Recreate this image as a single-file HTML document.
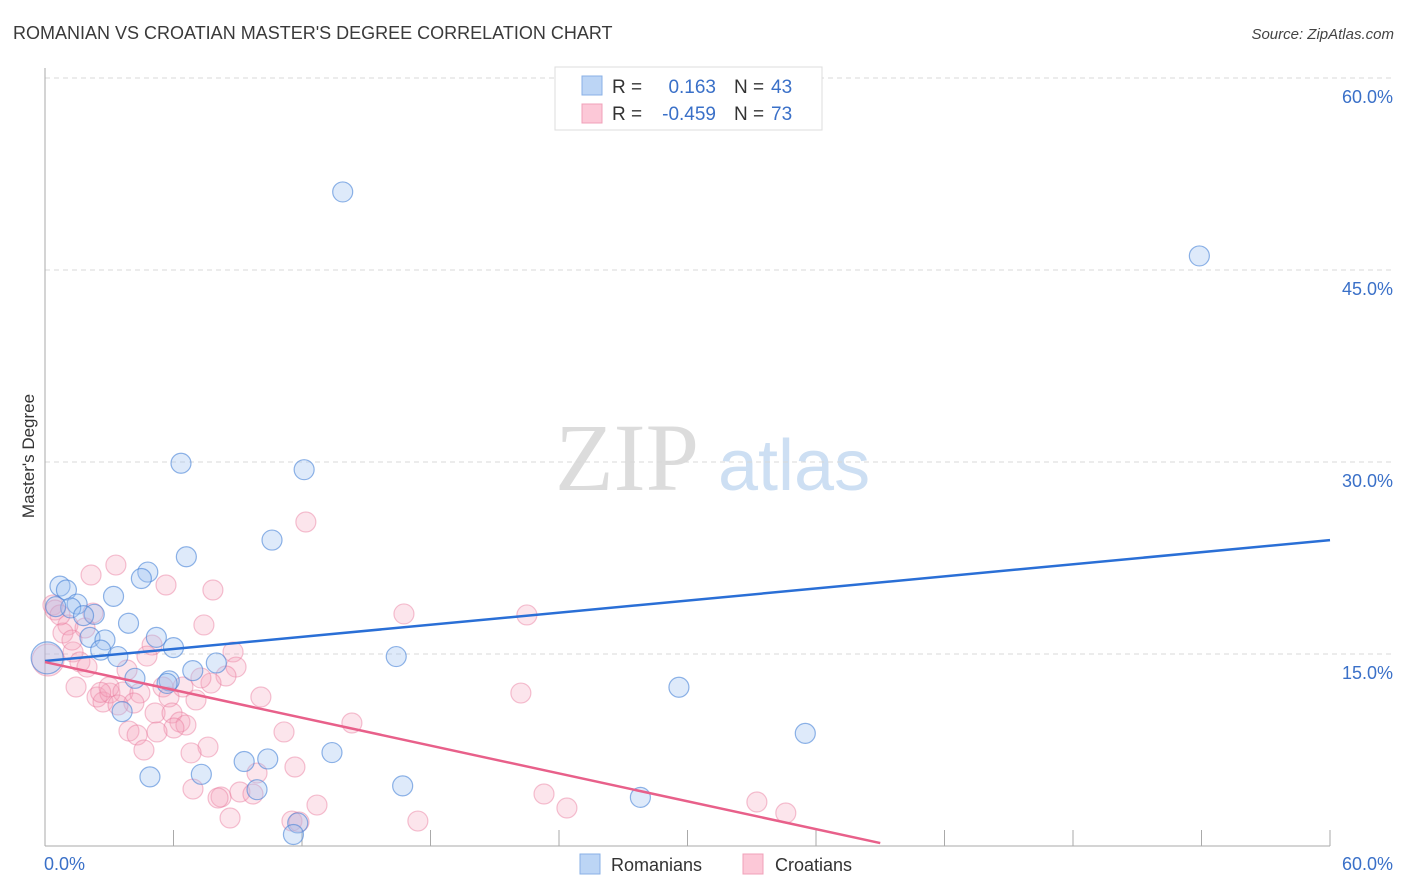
<!DOCTYPE html>
<html><head><meta charset="utf-8"><style>
body{margin:0;background:#fff;font-family:"Liberation Sans",sans-serif}
svg{display:block}
</style></head><body>
<svg id="chart" width="1406" height="892" xmlns="http://www.w3.org/2000/svg">
<text x="13" y="39" font-size="18" fill="#3a3a3a">ROMANIAN VS CROATIAN MASTER'S DEGREE CORRELATION CHART</text>
<text x="1394" y="39" font-size="15" fill="#444" font-style="italic" text-anchor="end">Source: ZipAtlas.com</text>
<g>
<text x="555" y="490" font-family="Liberation Serif,serif" font-size="96" fill="#dcdcdc">ZIP</text>
<text x="718" y="490" font-size="72" fill="#cddff3">atlas</text>
</g>
<g id="grid"></g>
<g id="axes"></g>
<g id="pts"></g>
<g id="trends"></g>
<text transform="translate(34,456) rotate(-90)" font-size="17" fill="#333" text-anchor="middle">Master's Degree</text>
<g>
<rect x="555" y="67" width="267" height="63" fill="#fff" stroke="#ddd"/>
<rect x="582" y="76" width="20" height="19" fill="#bcd5f5" stroke="#8ab0e6"/>
<rect x="582" y="104" width="20" height="19" fill="#fcc8d7" stroke="#f0a0b8"/>
<text x="612" y="93" font-size="19" fill="#333">R =</text>
<text x="716" y="93" font-size="19" fill="#3a70c8" text-anchor="end">0.163</text>
<text x="734" y="93" font-size="19" fill="#333">N =</text>
<text x="771" y="93" font-size="19" fill="#3a70c8">43</text>
<text x="612" y="120" font-size="19" fill="#333">R =</text>
<text x="716" y="120" font-size="19" fill="#3a70c8" text-anchor="end">-0.459</text>
<text x="734" y="120" font-size="19" fill="#333">N =</text>
<text x="771" y="120" font-size="19" fill="#3a70c8">73</text>
</g>
<g>
<rect x="580" y="854" width="20" height="20" fill="#bcd5f5" stroke="#8ab0e6"/>
<text x="611" y="871" font-size="18" fill="#333">Romanians</text>
<rect x="743" y="854" width="20" height="20" fill="#fcc8d7" stroke="#f0a0b8"/>
<text x="775" y="871" font-size="18" fill="#333">Croatians</text>
</g>
</svg>
<script>
const yTicks=[15,30,45,60];
const yTickLabels=["15.0%","30.0%","45.0%","60.0%"];
const xTickLabels=["0.0%","60.0%"];
const romX=[13.9,53.9,6.35,12.1,10.6,6.6,4.8,4.5,0.7,1.0,3.2,1.5,1.2,0.5,2.3,1.8,3.9,5.2,2.1,2.8,6.0,2.6,3.4,0.1,16.4,8.0,6.9,4.2,5.8,5.7,29.6,3.6,35.5,13.4,10.4,9.3,4.9,7.3,16.7,9.9,27.8,11.8,11.6];
const romY=[51.1,46.1,29.9,29.4,23.9,22.6,21.4,20.9,20.3,20.0,19.5,18.9,18.6,18.7,18.1,18.0,17.4,16.3,16.3,16.1,15.5,15.3,14.8,14.7,14.8,14.3,13.7,13.1,12.9,12.7,12.4,10.5,8.8,7.3,6.8,6.6,5.4,5.6,4.7,4.4,3.8,1.8,0.9];
const croX=[3.31,2.15,5.65,7.84,0.37,0.47,2.24,1.07,0.84,7.42,1.31,1.63,1.96,5.0,4.76,8.78,8.92,8.45,7.75,7.28,3.83,1.45,2.43,2.71,3.03,2.99,3.64,4.43,4.15,3.41,5.51,5.79,6.44,7.05,5.14,5.93,6.3,6.58,6.02,5.23,3.92,4.3,4.62,7.61,6.82,10.08,11.16,14.33,11.67,9.9,6.91,8.22,8.08,9.1,9.71,8.64,11.53,11.86,12.7,17.41,16.76,12.18,22.5,22.22,23.3,24.37,33.24,34.59,0.14,0.7,1.87,1.26,2.6];
const croY=[21.95,21.17,20.39,20.0,18.83,18.44,18.2,17.27,16.64,17.27,15.16,14.38,13.98,15.7,14.84,15.16,13.98,13.28,12.73,13.13,13.75,12.42,11.64,11.25,11.95,12.42,12.03,11.95,11.17,11.02,12.42,11.64,12.42,11.41,10.39,10.39,9.69,9.45,9.22,8.91,8.98,8.67,7.5,7.73,7.27,11.64,8.91,9.61,6.17,5.7,4.45,3.83,3.75,4.22,4.06,2.19,1.95,1.88,3.2,1.95,18.13,25.31,18.05,11.95,4.06,2.97,3.44,2.58,14.53,18.05,17.03,16.09,12.0];
const romTrend=[14.45,23.9];
const croTrend=[14.37,0.23]; // at x=0 and x=39
const NS="http://www.w3.org/2000/svg";
const X=v=>45+v*(1285/60), Y=v=>846-v*12.8;
function mk(t,a,p){const e=document.createElementNS(NS,t);for(const k in a)e.setAttribute(k,a[k]);p.appendChild(e);return e;}
const grid=document.getElementById('grid'),axes=document.getElementById('axes'),pts=document.getElementById('pts'),tr=document.getElementById('trends');
yTicks.forEach((v,i)=>{
 const l=mk('line',{x1:45,x2:1394,y1:Y(v),y2:Y(v),stroke:'#d8d8d8','stroke-dasharray':'5,4'},grid);
 
 
 const t=mk('text',{x:1393,y:Y(v)+25,'font-size':18,fill:'#3a70c8','text-anchor':'end'},axes);t.textContent=yTickLabels[i];
 
 
});
mk('line',{x1:45,x2:45,y1:68,y2:846,stroke:'#aaa'},axes);
mk('line',{x1:45,x2:1330,y1:846,y2:846,stroke:'#aaa'},axes);
for(let i=1;i<=10;i++){const t=mk('line',{x1:X(i*6),x2:X(i*6),y1:830,y2:846,stroke:'#aaa'},axes);
 
 }
const xl0=mk('text',{x:44,y:870,'font-size':18,fill:'#3a70c8'},axes);xl0.textContent=xTickLabels[0];


const xl1=mk('text',{x:1393,y:870,'font-size':18,fill:'#3a70c8','text-anchor':'end'},axes);xl1.textContent=xTickLabels[1];


croX.forEach((v,i)=>{const c=mk('circle',{cx:X(v),cy:Y(croY[i]),r:(i==68?16:10),fill:'rgba(245,160,188,0.28)',stroke:'rgba(232,120,155,0.45)','stroke-width':1.2},pts);
 
 });
romX.forEach((v,i)=>{const c=mk('circle',{cx:X(v),cy:Y(romY[i]),r:(i==23?16:10),fill:'rgba(160,195,240,0.35)',stroke:'rgba(70,130,215,0.6)','stroke-width':1.2},pts);
 
 });
const rl=mk('line',{x1:X(0),y1:Y(romTrend[0]),x2:X(60),y2:Y(romTrend[1]),stroke:'#2a6fd6','stroke-width':2.5},tr);


const cl=mk('line',{x1:X(0),y1:Y(croTrend[0]),x2:X(39),y2:Y(croTrend[1]),stroke:'#e8608a','stroke-width':2.5},tr);


</script>
</body></html>
